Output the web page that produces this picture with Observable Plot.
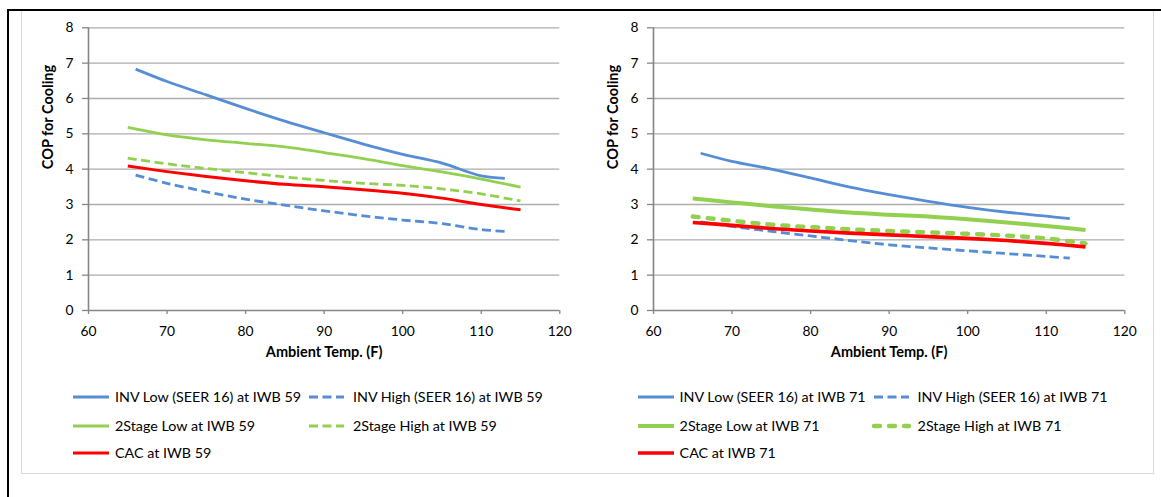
<!DOCTYPE html>
<html><head><meta charset="utf-8">
<script src="https://cdn.jsdelivr.net/npm/d3@7"></script>
<script src="https://cdn.jsdelivr.net/npm/@observablehq/plot@0.6"></script>
<style>
body{margin:0;background:#fff;}
#root{position:relative;width:1161px;height:497px;overflow:hidden;background:#fff;font-family:Lato,"Open Sans",sans-serif;}
.frame{position:absolute;left:7px;top:9px;width:1300px;height:600px;border-left:2px solid #000;border-top:2px solid #000;}
.box{position:absolute;left:21px;top:11px;width:1131px;height:462px;border:1px solid #d9d9d9;border-top:none;}
.panel{position:absolute;top:0;}
.leg{position:absolute;font-size:14.3px;color:#000;white-space:nowrap;line-height:16px;}
.legsw{position:absolute;}
</style></head>
<body><div id="root"><div class="box"></div><div class="frame"></div></div>
<script>
// ---- data ----
const xTicks = [60, 70, 80, 90, 100, 110, 120];
const yTicks = [0, 1, 2, 3, 4, 5, 6, 7, 8];
const xTitle = "Ambient Temp. (F)";
const yTitle = "COP for Cooling";

const tempsINV = [66, 70, 75, 80, 85, 90, 95, 100, 105, 110, 113];
const temps2S  = [65, 70, 75, 80, 85, 90, 95, 100, 105, 110, 115];

// IWB 59
const invLow59   = [6.83, 6.48, 6.10, 5.72, 5.36, 5.03, 4.71, 4.42, 4.17, 3.81, 3.74];
const invHigh59  = [3.83, 3.60, 3.36, 3.15, 2.98, 2.82, 2.68, 2.56, 2.46, 2.29, 2.24];
const stLow59    = [5.18, 4.97, 4.83, 4.73, 4.63, 4.47, 4.30, 4.10, 3.92, 3.72, 3.49];
const stHigh59   = [4.31, 4.15, 4.02, 3.90, 3.78, 3.68, 3.60, 3.54, 3.44, 3.30, 3.10];
const cac59      = [4.09, 3.93, 3.79, 3.67, 3.57, 3.50, 3.42, 3.32, 3.18, 3.00, 2.85];

// IWB 71
const invLow71   = [4.45, 4.22, 4.00, 3.75, 3.49, 3.28, 3.09, 2.92, 2.78, 2.67, 2.60];
const invHigh71  = [2.51, 2.38, 2.24, 2.11, 1.98, 1.86, 1.77, 1.69, 1.61, 1.53, 1.48];
const stLow71    = [3.17, 3.06, 2.95, 2.86, 2.77, 2.71, 2.66, 2.58, 2.49, 2.39, 2.28];
const stHigh71   = [2.66, 2.54, 2.43, 2.36, 2.30, 2.25, 2.21, 2.17, 2.12, 2.04, 1.90];
const cac71      = [2.49, 2.41, 2.32, 2.25, 2.19, 2.14, 2.09, 2.04, 1.98, 1.90, 1.80];

const names59 = ["INV Low (SEER 16) at IWB 59", "INV High (SEER 16) at IWB 59", "2Stage Low at IWB 59", "2Stage High at IWB 59", "CAC at IWB 59"];
const names71 = ["INV Low (SEER 16) at IWB 71", "INV High (SEER 16) at IWB 71", "2Stage Low at IWB 71", "2Stage High at IWB 71", "CAC at IWB 71"];

// ---- styles ----
const BLUE = "#558ED5", GREEN = "#92D050", RED = "#FF0000";
const GRID = "#ADADAD", AXIS = "#868686";

const panels = [
  {
    left: 0,
    series: [
      {name: names59[0], temps: tempsINV, values: invLow59,  color: BLUE,  w: 2.8, dash: null},
      {name: names59[1], temps: tempsINV, values: invHigh59, color: BLUE,  w: 2.8, dash: "9,4.5"},
      {name: names59[2], temps: temps2S,  values: stLow59,   color: GREEN, w: 2.8, dash: null},
      {name: names59[3], temps: temps2S,  values: stHigh59,  color: GREEN, w: 2.8, dash: "9,4.5"},
      {name: names59[4], temps: temps2S,  values: cac59,     color: RED,   w: 3.0, dash: null}
    ]
  },
  {
    left: 564.6,
    series: [
      {name: names71[0], temps: tempsINV, values: invLow71,  color: BLUE,  w: 2.8, dash: null},
      {name: names71[1], temps: tempsINV, values: invHigh71, color: BLUE,  w: 2.8, dash: "9,4.5"},
      {name: names71[2], temps: temps2S,  values: stLow71,   color: GREEN, w: 4.0, dash: null},
      {name: names71[3], temps: temps2S,  values: stHigh71,  color: GREEN, w: 4.4, dash: "6,9", cap: "round"},
      {name: names71[4], temps: temps2S,  values: cac71,     color: RED,   w: 3.6, dash: null}
    ]
  }
];

const root = document.getElementById("root");
const FONT = "Lato, 'Open Sans', sans-serif";

for (const p of panels) {
  const lineMarks = p.series.map(s => {
    const rows = s.temps.map((t, i) => ({t, v: s.values[i]}));
    return Plot.line(rows, {
      x: "t", y: "v", stroke: s.color, strokeWidth: s.w,
      strokeDasharray: s.dash || undefined, strokeLinecap: s.cap || "butt",
      curve: "catmull-rom"
    });
  });
  const chart = Plot.plot({
    width: 580, height: 375,
    marginLeft: 88, marginRight: 20.7, marginTop: 27.3, marginBottom: 65,
    style: {background: "transparent", fontFamily: FONT, fontSize: "13.8px", color: "#000"},
    x: {domain: [60, 120]},
    y: {domain: [0, 8]},
    marks: [
      Plot.ruleY(yTicks.filter(d => d > 0), {stroke: GRID, strokeWidth: 1.3}),
      Plot.axisY({ticks: yTicks, tickSize: 6, tickPadding: 9, stroke: AXIS, strokeWidth: 1.3, label: null, fontSize: 13.8}),
      Plot.axisX({ticks: xTicks, tickSize: 4, tickPadding: 12, stroke: AXIS, strokeWidth: 1.3, label: null, fontSize: 13.8}),
      Plot.ruleX([60], {stroke: AXIS, strokeWidth: 1.6}),
      Plot.ruleY([0], {stroke: AXIS, strokeWidth: 1.6}),
      ...lineMarks,
      Plot.text([yTitle], {text: d => d, frameAnchor: "left", rotate: -90, dx: -40, fontWeight: "bold", fontSize: 14.5}),
      Plot.text([xTitle], {text: d => d, frameAnchor: "bottom", dy: 46, fontWeight: "bold", fontSize: 14.5})
    ]
  });
  const wrap = document.createElement("div");
  wrap.className = "panel";
  wrap.style.left = p.left + "px";
  wrap.appendChild(chart);
  root.appendChild(wrap);

  // legend
  const cols = [{sx: 73, ex: 109, tx: 115}, {sx: 309, ex: 344, tx: 353}];
  const rowsY = [397, 426, 453];
  p.series.forEach((s, i) => {
    const c = cols[i % 2], ry = rowsY[Math.floor(i / 2)];
    const sw = document.createElementNS("http://www.w3.org/2000/svg", "svg");
    sw.setAttribute("class", "legsw");
    sw.setAttribute("width", 50); sw.setAttribute("height", 12);
    sw.style.left = (p.left + c.sx - 3) + "px";
    sw.style.top = (ry - 6) + "px";
    const ln = document.createElementNS("http://www.w3.org/2000/svg", "line");
    ln.setAttribute("x1", 3); ln.setAttribute("x2", 3 + (c.ex - c.sx));
    ln.setAttribute("y1", 6); ln.setAttribute("y2", 6);
    ln.setAttribute("stroke", s.color); ln.setAttribute("stroke-width", s.w);
    if (s.dash) ln.setAttribute("stroke-dasharray", s.dash);
    if (s.cap) ln.setAttribute("stroke-linecap", s.cap);
    sw.appendChild(ln);
    root.appendChild(sw);
    const tx = document.createElement("div");
    tx.className = "leg";
    tx.textContent = s.name;
    tx.style.left = (p.left + c.tx) + "px";
    tx.style.top = (ry - 8) + "px";
    root.appendChild(tx);
  });
}
</script>
</body></html>
